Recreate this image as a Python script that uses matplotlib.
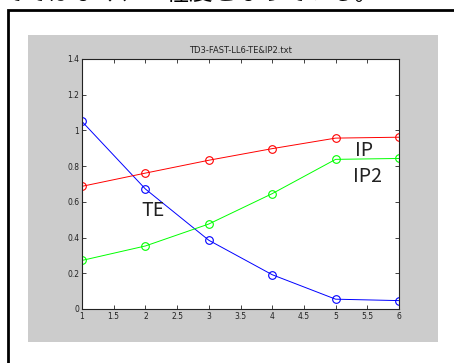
import matplotlib
matplotlib.use("Agg")
import matplotlib.pyplot as plt
from matplotlib.patches import Rectangle

# ---- data ----
x_vals = [1, 2, 3, 4, 5, 6]
te = [1.05, 0.672, 0.385, 0.192, 0.055, 0.047]
ip = [0.687, 0.761, 0.833, 0.898, 0.957, 0.962]
ip2 = [0.272, 0.353, 0.476, 0.646, 0.838, 0.843]
x_ticks = [1, 1.5, 2, 2.5, 3, 3.5, 4, 4.5, 5, 5.5, 6]
x_tick_labels = ["1", "1.5", "2", "2.5", "3", "3.5", "4", "4.5", "5", "5.5", "6"]
y_ticks = [0, 0.2, 0.4, 0.6, 0.8, 1, 1.2, 1.4]
y_tick_labels = ["0", "0.2", "0.4", "0.6", "0.8", "1", "1.2", "1.4"]
title = "TD3-FAST-LL6-TE&IP2.txt"
header_text = "でではなく、６程度となっている。"

W, H = 454, 363
fig = plt.figure(figsize=(W / 100, H / 100), dpi=100)
fig.patch.set_facecolor("white")

def fx(px):
    return px / W

def fy(py):
    return 1 - py / H

# document text (top cut off by the screenshot)
fig.text(fx(0), fy(0.5), header_text, fontsize=17, family=["Noto Sans CJK JP", "DejaVu Sans"],
         ha="left", va="baseline", color="black")

# outer frame of the document box
fig.patches.append(Rectangle((fx(8), fy(H + 20)), fx(W + 20 - 8), fy(10) - fy(H + 20),
                             transform=fig.transFigure, facecolor="white",
                             edgecolor="black", linewidth=2.0, zorder=0))
# MATLAB figure grey area
fig.patches.append(Rectangle((fx(28), fy(342)), fx(438 - 28), fy(35) - fy(342),
                             transform=fig.transFigure, facecolor="#cccccc",
                             edgecolor="none", zorder=1))

ax = fig.add_axes([fx(82), fy(309), fx(399 - 82), fy(59) - fy(309)])
ax.set_zorder(2)
ax.set_facecolor("white")

mk = dict(marker="o", markerfacecolor="none", markersize=5.5, markeredgewidth=0.8, linewidth=0.7)
ax.plot(x_vals, te, color="#0000ff", **mk)
ax.plot(x_vals, ip, color="#ff0000", **mk)
ax.plot(x_vals, ip2, color="#00ff00", **mk)

ax.set_xlim(1, 6)
ax.set_ylim(0, 1.4)
ax.set_xticks(x_ticks)
ax.set_xticklabels(x_tick_labels)
ax.set_yticks(y_ticks)
ax.set_yticklabels(y_tick_labels)
ax.tick_params(direction="in", length=3, width=0.6, labelsize=5.5, top=True, right=True,
               colors="#222222", pad=2)
for s in ax.spines.values():
    s.set_linewidth(0.8)
    s.set_color("#222222")
ax.set_title(title, fontsize=6, pad=4, color="#222222")

lab = dict(fontsize=14, family=["Noto Sans CJK JP", "DejaVu Sans"], ha="left", va="baseline",
           color="#222222")
ax.text(1.94, 0.518, "TE", **lab)
ax.text(5.30, 0.857, "IP", **lab)
ax.text(5.28, 0.709, "IP2", **lab)

fig.savefig("out.png", dpi=100)
